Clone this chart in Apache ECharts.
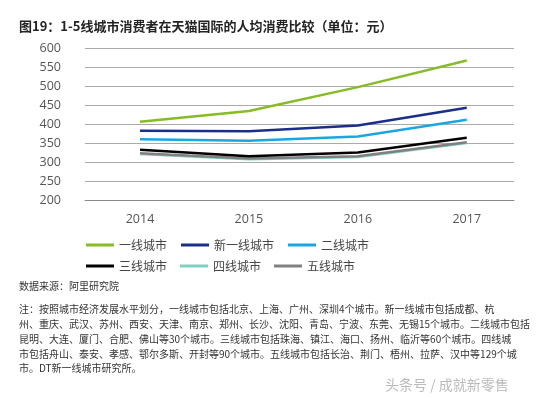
<!DOCTYPE html>
<html>
<head>
<meta charset="utf-8">
<script src="https://cdn.jsdelivr.net/npm/echarts@6/dist/echarts.min.js"></script>
<style>
  html, body { margin: 0; padding: 0; background: #fff; }
  #main { width: 538px; height: 398px; }
</style>
</head>
<body>
<div id="main"></div>
<script>
// data
var years = [2014, 2015, 2016, 2017];
var tier1 = [406, 434, 497, 567];
var newTier1 = [382, 381, 396, 443];
var tier2 = [360, 356, 367, 411];
var tier3 = [332, 315, 325, 364];
var tier4 = [321, 307, 313, 350];
var tier5 = [323, 309, 315, 352];

var names = ['一线城市', '新一线城市', '二线城市', '三线城市', '四线城市', '五线城市'];
var colors = ['#86BC25', '#1A2F8A', '#1AA7E0', '#000000', '#7FD0C0', '#808080'];

var noteLines = [
  '注：按照城市经济发展水平划分，一线城市包括北京、上海、广州、深圳4个城市。新一线城市包括成都、杭',
  '州、重庆、武汉、苏州、西安、天津、南京、郑州、长沙、沈阳、青岛、宁波、东莞、无锡15个城市。二线城市包括',
  '昆明、大连、厦门、合肥、佛山等30个城市。三线城市包括珠海、镇江、海口、扬州、临沂等60个城市。四线城',
  '市包括舟山、泰安、孝感、鄂尔多斯、开封等90个城市。五线城市包括长治、荆门、梧州、拉萨、汉中等129个城',
  '市。DT新一线城市研究所。'
];

function pairs(arr) {
  return years.map(function (y, i) { return [y, arr[i]]; });
}

var byName = {
  '一线城市': tier1, '新一线城市': newTier1, '二线城市': tier2,
  '三线城市': tier3, '四线城市': tier4, '五线城市': tier5
};
// grey ones first so the black line sits on top
var drawOrder = ['四线城市', '五线城市', '二线城市', '新一线城市', '一线城市', '三线城市'];
var series = [];
drawOrder.forEach(function (n) {
  var c = colors[names.indexOf(n)];
  series.push({
    name: n,
    type: 'line',
    data: pairs(byName[n]),
    showSymbol: false,
    symbol: 'none',
    lineStyle: { width: 2.5, color: c },
    itemStyle: { color: c },
    animation: false
  });
});

var chart = echarts.init(document.getElementById('main'));
var font = '"Noto Sans CJK SC", "Noto Sans", sans-serif';

var option = {
  backgroundColor: '#fff',
  title: {
    text: '图19：1-5线城市消费者在天猫国际的人均消费比较（单位：元）',
    left: 19, top: 20, padding: 0,
    textStyle: { fontSize: 13, fontWeight: 'bold', color: '#222', fontFamily: font }
  },
  legend: [
    {
      data: names.slice(0, 3), left: 86, top: 239, padding: 0,
      icon: 'rect', itemWidth: 28, itemHeight: 3, itemGap: 14,
      textStyle: { fontSize: 12, color: '#444', fontFamily: font }
    },
    {
      data: names.slice(3), left: 86, top: 260, padding: 0,
      icon: 'rect', itemWidth: 28, itemHeight: 3, itemGap: 13,
      textStyle: { fontSize: 12, color: '#444', fontFamily: font }
    }
  ],
  grid: { left: 85, right: 24, top: 48, bottom: 198, containLabel: false },
  xAxis: {
    type: 'value',
    min: 2013.495,
    max: 2017.434,
    axisLine: { show: true, lineStyle: { color: '#8a8a8a', width: 1 } },
    axisTick: { show: false },
    splitLine: { show: false },
    axisLabel: {
      customValues: years,
      formatter: function (v) { return String(v); },
      margin: 13, fontSize: 12.5, color: '#555', fontFamily: '"Open Sans", sans-serif'
    }
  },
  yAxis: {
    type: 'value',
    min: 200, max: 600, interval: 50,
    axisLine: { show: false },
    axisTick: { show: false },
    splitLine: { lineStyle: { color: '#aaaaaa', width: 1 } },
    axisLabel: { margin: 24, fontSize: 12.5, color: '#555', fontFamily: '"Open Sans", sans-serif' }
  },
  graphic: [
    {
      type: 'text', left: 19, top: 281,
      style: { text: '数据来源：阿里研究院', fontSize: 10, fill: '#333', fontFamily: font }
    },
    {
      type: 'text', left: 19, top: 302,
      style: { text: noteLines.join('\n'), fontSize: 10, lineHeight: 14.8, fill: '#333', fontFamily: font }
    },
    {
      type: 'text', left: 385, top: 378,
      style: { text: '头条号 / 成就新零售', fontSize: 14, fill: '#bbb', fontFamily: font }
    }
  ],
  series: series
};

chart.setOption(option);
</script>
</body>
</html>
